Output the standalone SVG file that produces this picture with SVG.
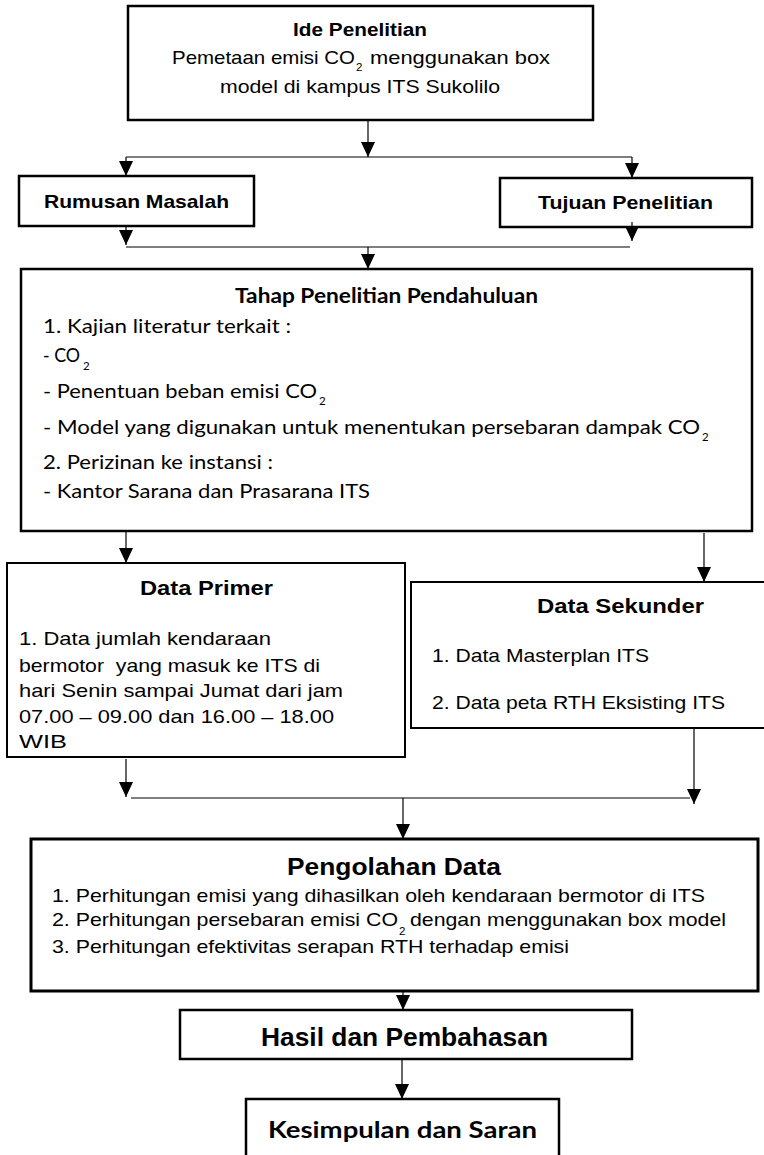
<svg xmlns="http://www.w3.org/2000/svg" width="764" height="1155" viewBox="0 0 764 1155">
<defs>
<marker id="ah" markerUnits="userSpaceOnUse" markerWidth="16" markerHeight="16" refX="15" refY="7" orient="auto">
<path d="M0,0 L15,7 L0,14 Z" fill="#000"/>
</marker>
<style>
.box{fill:#fff;stroke:#000;stroke-width:2.5}
.c{fill:none;stroke:#000;stroke-width:1.2}
.a{fill:none;stroke:#000;stroke-width:1.2;marker-end:url(#ah)}
.ar{font-family:"Liberation Sans",Arial,sans-serif;font-size:18.5px;fill:#000}
.arb{font-family:"Liberation Sans",Arial,sans-serif;font-weight:bold;fill:#000}
.cal{font-family:Lato,"Open Sans",sans-serif;font-size:20px;fill:#000}
.calb{font-family:Lato,"Open Sans",sans-serif;font-weight:bold;fill:#000}
.sub{font-size:11.5px}
</style>
</defs>
<rect width="764" height="1155" fill="#fff"/>

<g id="ide">
<rect class="box" x="128" y="6" width="465" height="114"/>
<text class="arb" x="293" y="36" font-size="18" textLength="134" lengthAdjust="spacingAndGlyphs">Ide Penelitian</text>
<text class="ar" x="172" y="64" textLength="183" lengthAdjust="spacingAndGlyphs">Pemetaan emisi CO</text>
<text class="ar sub" x="356" y="71">2</text>
<text class="ar" x="370" y="64" textLength="180" lengthAdjust="spacingAndGlyphs">menggunakan box</text>
<text class="ar" x="220" y="93" textLength="280" lengthAdjust="spacingAndGlyphs">model di kampus ITS Sukolilo</text>
</g>

<g id="rumusan">
<rect class="box" x="19" y="176" width="235" height="50"/>
<text class="arb" x="44" y="208" font-size="19" textLength="185" lengthAdjust="spacingAndGlyphs">Rumusan Masalah</text>
</g>

<g id="tujuan">
<rect class="box" x="500" y="178" width="252" height="49"/>
<text class="arb" x="538" y="209" font-size="19" textLength="175" lengthAdjust="spacingAndGlyphs">Tujuan Penelitian</text>
</g>

<g id="tahap">
<rect class="box" x="21" y="269" width="731" height="262"/>
<text class="calb" x="235" y="303" font-size="20" textLength="303" lengthAdjust="spacingAndGlyphs">Tahap Penelitian Pendahuluan</text>
<text class="cal" x="43" y="333" textLength="248" lengthAdjust="spacingAndGlyphs">1. Kajian literatur terkait :</text>
<text class="cal" x="43" y="362" textLength="37" lengthAdjust="spacingAndGlyphs">- CO</text>
<text class="cal sub" x="83" y="370">2</text>
<text class="cal" x="43" y="398" textLength="274" lengthAdjust="spacingAndGlyphs">- Penentuan beban emisi CO</text>
<text class="cal sub" x="319" y="405">2</text>
<text class="cal" x="43" y="434" textLength="657" lengthAdjust="spacingAndGlyphs">- Model yang digunakan untuk menentukan persebaran dampak CO</text>
<text class="cal sub" x="702" y="441">2</text>
<text class="cal" x="43" y="469" textLength="230" lengthAdjust="spacingAndGlyphs">2. Perizinan ke instansi :</text>
<text class="cal" x="43" y="498" textLength="327" lengthAdjust="spacingAndGlyphs">- Kantor Sarana dan Prasarana ITS</text>
</g>

<g id="primer">
<rect class="box" x="7" y="563" width="398" height="194" style="stroke-width:2"/>
<text class="arb" x="140" y="595" font-size="20" textLength="133" lengthAdjust="spacingAndGlyphs">Data Primer</text>
<text class="ar" x="19" y="645" textLength="252" lengthAdjust="spacingAndGlyphs">1. Data jumlah kendaraan</text>
<text class="ar" x="19" y="672" textLength="301" lengthAdjust="spacingAndGlyphs" style="white-space:pre">bermotor  yang masuk ke ITS di</text>
<text class="ar" x="19" y="697" textLength="324" lengthAdjust="spacingAndGlyphs">hari Senin sampai Jumat dari jam</text>
<text class="ar" x="19" y="723" textLength="315" lengthAdjust="spacingAndGlyphs">07.00 – 09.00 dan 16.00 – 18.00</text>
<text class="ar" x="19" y="748" textLength="48" lengthAdjust="spacingAndGlyphs">WIB</text>
</g>

<g id="sekunder">
<rect class="box" x="411" y="582" width="356" height="146" style="stroke-width:2"/>
<text class="arb" x="537" y="613" font-size="20" textLength="167" lengthAdjust="spacingAndGlyphs">Data Sekunder</text>
<text class="ar" x="432" y="662" textLength="217" lengthAdjust="spacingAndGlyphs">1. Data Masterplan ITS</text>
<text class="ar" x="432" y="709" textLength="293" lengthAdjust="spacingAndGlyphs">2. Data peta RTH Eksisting ITS</text>
</g>

<g id="pengolahan">
<rect class="box" x="31" y="839" width="727" height="152" style="stroke-width:3"/>
<text class="arb" x="287" y="875" font-size="24" textLength="214" lengthAdjust="spacingAndGlyphs">Pengolahan Data</text>
<text class="ar" x="52" y="902" textLength="653" lengthAdjust="spacingAndGlyphs">1. Perhitungan emisi yang dihasilkan oleh kendaraan bermotor di ITS</text>
<text class="ar" x="52" y="926" textLength="346" lengthAdjust="spacingAndGlyphs">2. Perhitungan persebaran emisi CO</text>
<text class="ar sub" x="399" y="935">2</text>
<text class="ar" x="410" y="926" textLength="316" lengthAdjust="spacingAndGlyphs">dengan menggunakan box model</text>
<text class="ar" x="52" y="953" textLength="517" lengthAdjust="spacingAndGlyphs">3. Perhitungan efektivitas serapan RTH terhadap emisi</text>
</g>

<g id="hasil">
<rect class="box" x="180" y="1010" width="452" height="49"/>
<text class="arb" x="261" y="1046" font-size="25" textLength="287" lengthAdjust="spacingAndGlyphs">Hasil dan Pembahasan</text>
</g>

<g id="kesimpulan">
<rect class="box" x="246" y="1099" width="313" height="70"/>
<text class="calb" x="268" y="1138" font-size="23" textLength="269" lengthAdjust="spacingAndGlyphs">Kesimpulan dan Saran</text>
</g>

<g id="connectors">
<path class="a" d="M368,120 V157"/>
<path class="c" d="M126,157 H632"/>
<path class="a" d="M126,157 V176"/>
<path class="a" d="M632,157 V178"/>
<path class="a" d="M126,226 V245"/>
<path class="a" d="M632,222 V241"/>
<path class="c" d="M126,247 H630"/>
<path class="a" d="M368,247 V269"/>
<path class="a" d="M126,531 V563"/>
<path class="a" d="M704,533 V582"/>
<path class="a" d="M126,759 V797"/>
<path class="c" d="M131,798 H690"/>
<path class="a" d="M694,728 V804"/>
<path class="a" d="M403,798 V839"/>
<path class="a" d="M403,991 V1010"/>
<path class="a" d="M402,1059 V1099"/>
</g>
</svg>
